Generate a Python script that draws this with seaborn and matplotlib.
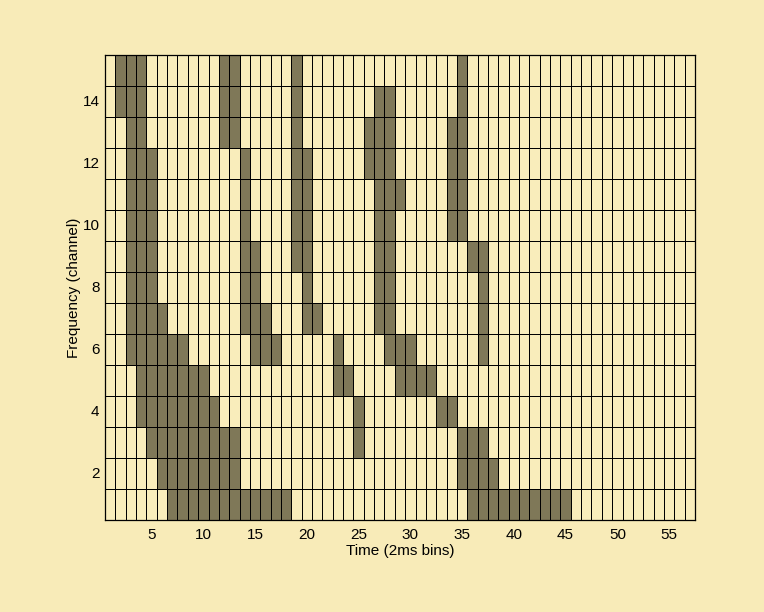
import matplotlib
matplotlib.use("Agg")
import matplotlib.pyplot as plt
import seaborn as sns
import numpy as np
import pandas as pd
from matplotlib.colors import ListedColormap

# Active (dark) time bins per frequency channel
n_time = 57
n_channels = 15
channels = list(range(1, 16))
active_bins = {
    15: [2, 3, 4, 12, 13, 19, 35],
    14: [2, 3, 4, 12, 13, 19, 27, 28, 35],
    13: [3, 4, 12, 13, 19, 26, 27, 28, 34, 35],
    12: [3, 4, 5, 14, 19, 20, 26, 27, 28, 34, 35],
    11: [3, 4, 5, 14, 19, 20, 27, 28, 29, 34, 35],
    10: [3, 4, 5, 14, 19, 20, 27, 28, 34, 35],
    9: [3, 4, 5, 14, 15, 19, 20, 27, 28, 36, 37],
    8: [3, 4, 5, 14, 15, 20, 27, 28, 37],
    7: [3, 4, 5, 6, 14, 15, 16, 20, 21, 27, 28, 37],
    6: [3, 4, 5, 6, 7, 8, 15, 16, 17, 23, 28, 29, 30, 37],
    5: [4, 5, 6, 7, 8, 9, 10, 23, 24, 29, 30, 31, 32],
    4: [4, 5, 6, 7, 8, 9, 10, 11, 25, 33, 34],
    3: [5, 6, 7, 8, 9, 10, 11, 12, 13, 25, 35, 36, 37],
    2: [6, 7, 8, 9, 10, 11, 12, 13, 35, 36, 37, 38],
    1: [7, 8, 9, 10, 11, 12, 13, 14, 15, 16, 17, 18, 36, 37, 38, 39, 40, 41, 42, 43, 44, 45],
}
x_ticks = [5, 10, 15, 20, 25, 30, 35, 40, 45, 50, 55]
y_ticks = [2, 4, 6, 8, 10, 12, 14]

time_bins = list(range(1, n_time + 1))
rows = list(reversed(channels))
mat = pd.DataFrame(0, index=rows, columns=time_bins)
for ch, bins in active_bins.items():
    for b in bins:
        mat.loc[ch, b] = 1

bg = "#f8ebb8"
light = "#f9edbb"
dark = "#7f7858"

plt.rcParams['font.family'] = ['Liberation Sans', 'DejaVu Sans']
fig = plt.figure(figsize=(7.64, 6.12), dpi=100, facecolor=bg)
ax = fig.add_axes([105 / 764, 92 / 612, 590 / 764, 465 / 612])
sns.heatmap(mat, ax=ax, cmap=ListedColormap([light, dark]), vmin=0, vmax=1,
            cbar=False, linewidths=0.6, linecolor="black", square=False)

ax.set_xticks([time_bins.index(t) + 0.5 for t in x_ticks])
ax.set_xticklabels([str(t) for t in x_ticks], rotation=0)
ax.set_yticks([rows.index(t) + 0.5 for t in y_ticks])
ax.set_yticklabels([str(t) for t in y_ticks], rotation=0)
ax.tick_params(length=0, labelsize=11, colors="black")
ax.tick_params(axis='x', pad=6)
ax.tick_params(axis='y', pad=4)
ax.set_xlabel("Time (2ms bins)", fontsize=11, labelpad=1)
ax.set_ylabel("Frequency (channel)", fontsize=11, labelpad=1)
for s in ax.spines.values():
    s.set_visible(True)
    s.set_color("black")
    s.set_linewidth(0.9)

fig.savefig("out.png", dpi=100, facecolor=bg)
